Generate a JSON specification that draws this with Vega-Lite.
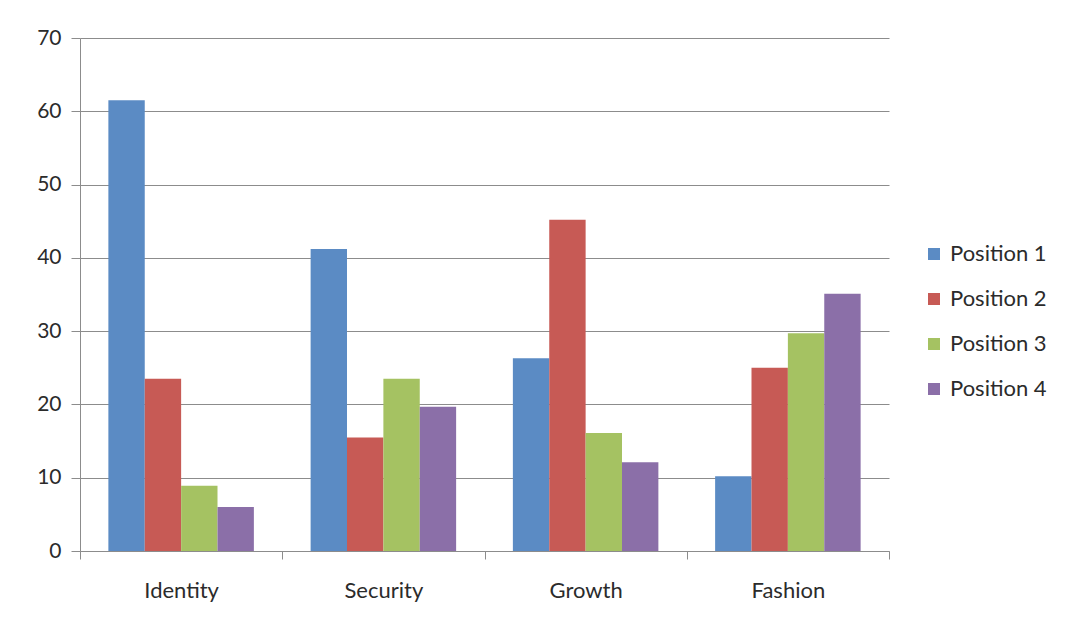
{
  "$schema": "https://vega.github.io/schema/vega-lite/v6.json",
  "width": 809,
  "height": 513,
  "autosize": {"type": "none"},
  "padding": {"left": 80, "top": 38, "right": 180, "bottom": 73},
  "background": "white",
  "data": {
    "values": [
      {"theme": "Identity", "position": "Position 1", "value": 61.5},
      {"theme": "Identity", "position": "Position 2", "value": 23.5},
      {"theme": "Identity", "position": "Position 3", "value": 8.9},
      {"theme": "Identity", "position": "Position 4", "value": 6.0},
      {"theme": "Security", "position": "Position 1", "value": 41.2},
      {"theme": "Security", "position": "Position 2", "value": 15.5},
      {"theme": "Security", "position": "Position 3", "value": 23.5},
      {"theme": "Security", "position": "Position 4", "value": 19.7},
      {"theme": "Growth", "position": "Position 1", "value": 26.3},
      {"theme": "Growth", "position": "Position 2", "value": 45.2},
      {"theme": "Growth", "position": "Position 3", "value": 16.1},
      {"theme": "Growth", "position": "Position 4", "value": 12.1},
      {"theme": "Fashion", "position": "Position 1", "value": 10.2},
      {"theme": "Fashion", "position": "Position 2", "value": 25.0},
      {"theme": "Fashion", "position": "Position 3", "value": 29.7},
      {"theme": "Fashion", "position": "Position 4", "value": 35.1}
    ]
  },
  "mark": {"type": "bar"},
  "encoding": {
    "x": {
      "field": "theme",
      "type": "nominal",
      "sort": ["Identity", "Security", "Growth", "Fashion"],
      "scale": {"paddingInner": 0, "paddingOuter": 0},
      "axis": {
        "title": null,
        "labelAngle": 0,
        "tickBand": "extent",
        "tickSize": 8,
        "tickColor": "#8c8c8c",
        "domainColor": "#8c8c8c",
        "labelPadding": 21,
        "labelFontSize": 22,
        "labelColor": "#2b2b2b",
        "labelFont": "Lato",
        "grid": false
      }
    },
    "xOffset": {
      "field": "position",
      "type": "nominal",
      "sort": ["Position 1", "Position 2", "Position 3", "Position 4"],
      "scale": {"paddingInner": 0, "paddingOuter": 0.78}
    },
    "y": {
      "field": "value",
      "type": "quantitative",
      "scale": {"domain": [0, 70], "nice": false},
      "axis": {
        "title": null,
        "values": [0, 10, 20, 30, 40, 50, 60, 70],
        "tickSize": 9,
        "tickColor": "#8c8c8c",
        "domainColor": "#8c8c8c",
        "gridColor": "#8c8c8c",
        "labelPadding": 10,
        "labelFontSize": 21,
        "labelColor": "#2b2b2b",
        "labelFont": "Lato"
      }
    },
    "color": {
      "field": "position",
      "type": "nominal",
      "scale": {
        "domain": ["Position 1", "Position 2", "Position 3", "Position 4"],
        "range": ["#5b8bc4", "#c75a55", "#a5c262", "#8b6fa8"]
      },
      "legend": {
        "title": null,
        "orient": "none",
        "legendX": 843,
        "legendY": 205,
        "symbolType": "square",
        "symbolSize": 144,
        "symbolStrokeWidth": 0,
        "labelFontSize": 22,
        "labelColor": "#2b2b2b",
        "labelFont": "Lato",
        "labelOffset": 5,
        "rowPadding": 23
      }
    }
  },
  "config": {"view": {"stroke": null}, "font": "Lato"}
}
